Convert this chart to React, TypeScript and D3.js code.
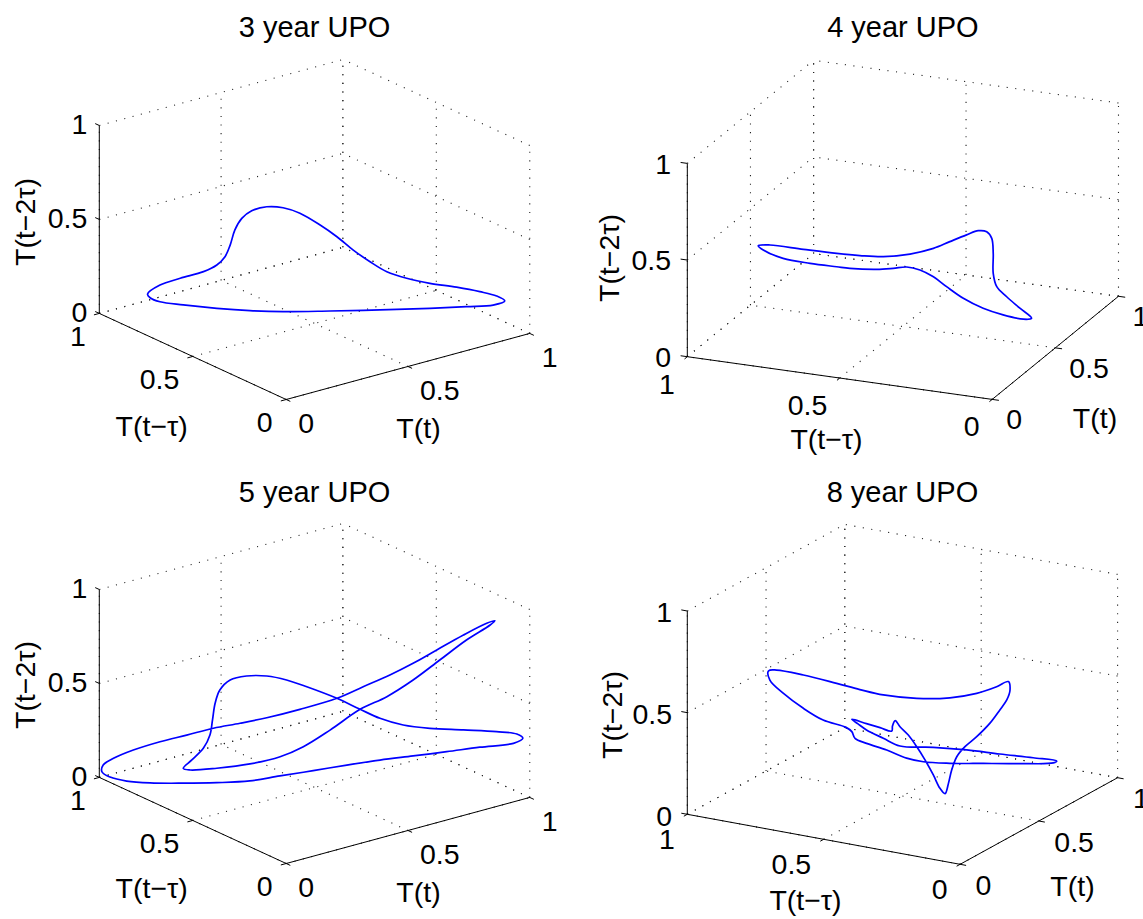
import React from 'react';
import * as d3 from 'd3';

const W = 1143;
const H = 919;

// Delay-embedded unstable periodic orbits: T(t), T(t-tau), T(t-2tau)
const upo3Tt = [0.112,0.141,0.188,0.242,0.273,0.292,0.304,0.315,0.331,0.354,0.389,0.427,0.466,0.513,0.552,0.590,0.629,0.668,0.714,0.768,0.830,0.884,0.923,0.942,0.915,0.853,0.768,0.652,0.536,0.427,0.350,0.273,0.195,0.141,0.118];
const upo3Tt1 = [0.888,0.859,0.812,0.758,0.727,0.708,0.696,0.685,0.669,0.646,0.611,0.573,0.534,0.487,0.448,0.410,0.371,0.332,0.286,0.232,0.170,0.116,0.077,0.058,0.085,0.147,0.232,0.348,0.464,0.573,0.650,0.727,0.805,0.859,0.882];
const upo3Tt2 = [0.115,0.166,0.207,0.248,0.287,0.333,0.396,0.478,0.541,0.584,0.609,0.608,0.583,0.525,0.467,0.400,0.342,0.293,0.263,0.242,0.228,0.210,0.191,0.167,0.142,0.127,0.109,0.088,0.070,0.055,0.052,0.056,0.066,0.077,0.096];

const upo4Tt = [0.337,0.350,0.388,0.425,0.452,0.478,0.508,0.534,0.553,0.572,0.585,0.594,0.600,0.602,0.602,0.606,0.617,0.632,0.645,0.636,0.613,0.590,0.568,0.549,0.534,0.519,0.504,0.489,0.471,0.440,0.425,0.395,0.365,0.343];
const upo4Tt1 = [0.907,0.874,0.780,0.686,0.621,0.555,0.480,0.414,0.368,0.321,0.288,0.264,0.250,0.246,0.246,0.236,0.208,0.171,0.138,0.161,0.218,0.274,0.330,0.377,0.414,0.452,0.489,0.527,0.574,0.649,0.686,0.761,0.837,0.893];
const upo4Tt2 = [0.415,0.419,0.397,0.377,0.366,0.361,0.375,0.405,0.440,0.475,0.497,0.492,0.458,0.381,0.277,0.208,0.156,0.097,0.045,0.040,0.062,0.096,0.147,0.207,0.258,0.293,0.308,0.301,0.295,0.300,0.308,0.325,0.350,0.393];

const upo5Tt = [0.006,0.009,0.033,0.079,0.141,0.203,0.265,0.327,0.389,0.466,0.552,0.613,0.675,0.729,0.784,0.846,0.900,0.919,0.908,0.853,0.791,0.729,0.668,0.606,0.536,0.474,0.420,0.350,0.273,0.211,0.195,0.215,0.242,0.257,0.263,0.269,0.280,0.304,0.342,0.389,0.435,0.482,0.552,0.606,0.652,0.706,0.768,0.846,0.923,0.970,0.984,0.962,0.884,0.807,0.729,0.652,0.575,0.497,0.411,0.328,0.238,0.160,0.092,0.042,0.012];
const upo5Tt1 = [0.994,0.991,0.967,0.921,0.859,0.797,0.735,0.673,0.611,0.534,0.448,0.387,0.325,0.271,0.216,0.154,0.100,0.081,0.092,0.147,0.209,0.271,0.332,0.394,0.464,0.526,0.580,0.650,0.727,0.789,0.805,0.785,0.758,0.743,0.737,0.731,0.720,0.696,0.658,0.611,0.565,0.518,0.448,0.394,0.348,0.294,0.232,0.154,0.077,0.030,0.016,0.038,0.116,0.193,0.271,0.348,0.425,0.503,0.569,0.622,0.682,0.760,0.848,0.908,0.958];
const upo5Tt2 = [0.031,0.067,0.105,0.154,0.205,0.247,0.290,0.323,0.359,0.412,0.480,0.548,0.617,0.685,0.762,0.848,0.916,0.932,0.908,0.822,0.709,0.596,0.501,0.427,0.309,0.214,0.155,0.109,0.078,0.062,0.069,0.116,0.182,0.253,0.334,0.423,0.495,0.551,0.576,0.581,0.565,0.534,0.480,0.427,0.384,0.354,0.343,0.343,0.342,0.334,0.313,0.284,0.255,0.223,0.192,0.162,0.127,0.089,0.061,0.039,0.034,0.023,0.008,0.008,0.017];

const upo8Tt = [0.207,0.220,0.264,0.318,0.356,0.394,0.449,0.503,0.547,0.580,0.599,0.601,0.596,0.585,0.569,0.547,0.528,0.514,0.506,0.501,0.495,0.487,0.476,0.463,0.449,0.435,0.422,0.414,0.409,0.408,0.389,0.367,0.343,0.353,0.367,0.394,0.422,0.476,0.531,0.585,0.639,0.678,0.672,0.612,0.558,0.503,0.460,0.433,0.400,0.367,0.348,0.343,0.334,0.296,0.264,0.231,0.209];
const upo8Tt1 = [0.822,0.800,0.727,0.636,0.573,0.509,0.418,0.328,0.255,0.201,0.169,0.164,0.173,0.192,0.219,0.255,0.287,0.309,0.323,0.332,0.341,0.355,0.373,0.396,0.418,0.441,0.464,0.477,0.484,0.486,0.518,0.555,0.595,0.578,0.555,0.509,0.464,0.373,0.282,0.192,0.101,0.037,0.046,0.146,0.237,0.328,0.400,0.446,0.500,0.555,0.586,0.595,0.611,0.673,0.727,0.782,0.818];
const upo8Tt2 = [0.661,0.665,0.640,0.598,0.567,0.540,0.522,0.524,0.545,0.577,0.602,0.561,0.512,0.463,0.398,0.332,0.283,0.234,0.169,0.103,0.053,0.079,0.145,0.219,0.284,0.342,0.383,0.413,0.387,0.362,0.379,0.399,0.421,0.398,0.368,0.327,0.288,0.281,0.267,0.246,0.227,0.210,0.201,0.199,0.200,0.202,0.210,0.228,0.269,0.302,0.327,0.360,0.381,0.418,0.476,0.551,0.616];

const tickValues = [0, 0.5, 1];
const tickLabels = ['0', '0.5', '1'];
const titles = ['3 year UPO', '4 year UPO', '5 year UPO', '8 year UPO'];
const xAxisName = 'T(t)';
const yAxisName = 'T(t\u2212\u03c4)';
const zAxisName = 'T(t\u22122\u03c4)';

type Pt = [number, number];

interface Panel {
  title: string;
  xs: number[];
  ys: number[];
  zs: number[];
  az: number;
  el: number;
  sh: number;
  sv: number;
  ox: number;
  oy: number;
  titleY: number;
  zLab: Pt;
  yLab: Pt;
  xLab: Pt;
  xName: Pt;
  yName: Pt;
  zName: Pt;
}

const panels: Panel[] = [
  {
    title: titles[0], xs: upo3Tt, ys: upo3Tt1, zs: upo3Tt2,
    az: 37.5, el: 30, sh: 307, sv: 217, ox: 286.2, oy: 399.5, titleY: 36.7,
    zLab: [-12, -1.5], yLab: [-13.5, 22.3], xLab: [12, 23],
    xName: [418.5, 438], yName: [151.7, 436], zName: [34.5, 222],
  },
  {
    title: titles[1], xs: upo4Tt, ys: upo4Tt1, zs: upo4Tt2,
    az: 67.5, el: 30, sh: 330, sv: 223.2, ox: 992.2, oy: 399.4, titleY: 36.7,
    zLab: [-16.3, 0], yLab: [-12.5, 26.7], xLab: [14, 19.5],
    xName: [1095, 428], yName: [826.5, 449], zName: [618.7, 258],
  },
  {
    title: titles[2], xs: upo5Tt, ys: upo5Tt1, zs: upo5Tt2,
    az: 37.5, el: 30, sh: 307, sv: 217, ox: 286.2, oy: 863.5, titleY: 501.7,
    zLab: [-12, -1.5], yLab: [-13.5, 22.3], xLab: [12, 23],
    xName: [418.5, 902], yName: [151.7, 898], zName: [35, 685],
  },
  {
    title: titles[3], xs: upo8Tt, ys: upo8Tt1, zs: upo8Tt2,
    az: 60, el: 26.19, sh: 315, sv: 226.56, ox: 960.1, oy: 864.3, titleY: 501.7,
    zLab: [-15.3, 1], yLab: [-12.5, 24.3], xLab: [15.5, 20.4],
    xName: [1072.5, 896], yName: [805.5, 910], zName: [622, 715],
  },
];

const FONT = "'Liberation Sans', Arial, Helvetica, sans-serif";
const FS = 28.5;
const TITLE_FS = 29;
const TICK = 0.022;

function makeProjection(p: Panel) {
  const a = (p.az * Math.PI) / 180;
  const e = (p.el * Math.PI) / 180;
  const hScale = d3.scaleLinear().domain([0, 1]).range([0, p.sh]);
  const vScale = d3.scaleLinear().domain([0, 1]).range([0, p.sv]);
  return (x: number, y: number, z: number): Pt => [
    p.ox + hScale(x * Math.cos(a) - y * Math.sin(a)),
    p.oy - vScale((x * Math.sin(a) + y * Math.cos(a)) * Math.sin(e) + z * Math.cos(e)),
  ];
}

function PanelView({ p }: { p: Panel }) {
  const P = makeProjection(p);
  const seg = (a: [number, number, number], b: [number, number, number]) => {
    const s = P(a[0], a[1], a[2]);
    const t = P(b[0], b[1], b[2]);
    return { x1: s[0], y1: s[1], x2: t[0], y2: t[1] };
  };

  const grid: ReturnType<typeof seg>[] = [];
  tickValues.forEach((g) => {
    grid.push(seg([g, 0, 0], [g, 1, 0]));
    grid.push(seg([0, g, 0], [1, g, 0]));
    grid.push(seg([g, 1, 0], [g, 1, 1]));
    grid.push(seg([0, 1, g], [1, 1, g]));
    grid.push(seg([1, g, 0], [1, g, 1]));
    grid.push(seg([1, 0, g], [1, 1, g]));
  });

  const axes = [seg([0, 1, 0], [0, 1, 1]), seg([0, 0, 0], [0, 1, 0]), seg([0, 0, 0], [1, 0, 0])];
  const ticks: ReturnType<typeof seg>[] = [];
  tickValues.forEach((g) => {
    ticks.push(seg([0, 1, g], [0, 1 + TICK, g]));
    ticks.push(seg([0, g, 0], [-TICK, g, 0]));
    ticks.push(seg([g, 0, 0], [g, -TICK, 0]));
  });

  const pts: Pt[] = p.xs.map((x, i) => P(x, p.ys[i], p.zs[i]));
  const line = d3.line<Pt>().curve(d3.curveCatmullRomClosed.alpha(0.5));
  const d = line(pts) || '';

  const zAxisX = P(0, 1, 0)[0];
  const left = zAxisX;
  const right = P(1, 0, 0)[0];
  const dy = FS * 0.358;

  return (
    <g>
      {grid.map((s, i) => (
        <line key={'g' + i} {...s} stroke="#222" strokeWidth={1.1} strokeDasharray="1.1,7.5" />
      ))}
      {axes.map((s, i) => (
        <line key={'a' + i} {...s} stroke="#000" strokeWidth={1} />
      ))}
      {ticks.map((s, i) => (
        <line key={'t' + i} {...s} stroke="#000" strokeWidth={1} />
      ))}
      <path d={d} fill="none" stroke="#0000ff" strokeWidth={1.7} strokeLinejoin="round" />
      <g fontFamily={FONT} fontSize={FS} fill="#000">
        <text x={(left + right) / 2} y={p.titleY} textAnchor="middle" fontSize={TITLE_FS}>{p.title}</text>
        {tickValues.map((g, i) => {
          const tz = P(0, 1, g);
          const ty = P(0, g, 0);
          const tx = P(g, 0, 0);
          return (
            <g key={'l' + i}>
              <text x={zAxisX + p.zLab[0]} y={tz[1] + p.zLab[1] + dy} textAnchor="end">{tickLabels[i]}</text>
              <text x={ty[0] + p.yLab[0]} y={ty[1] + p.yLab[1] + dy} textAnchor="end">{tickLabels[i]}</text>
              <text x={tx[0] + p.xLab[0]} y={tx[1] + p.xLab[1] + dy} textAnchor="start">{tickLabels[i]}</text>
            </g>
          );
        })}
        <text x={p.xName[0]} y={p.xName[1]} textAnchor="middle">{xAxisName}</text>
        <text x={p.yName[0]} y={p.yName[1]} textAnchor="middle">{yAxisName}</text>
        <text transform={`translate(${p.zName[0]},${p.zName[1]}) rotate(-90)`} textAnchor="middle">{zAxisName}</text>
      </g>
    </g>
  );
}

export default function App() {
  return (
    <svg
      width={W}
      height={H}
      viewBox={`0 0 ${W} ${H}`}
      style={{ position: 'absolute', left: 0, top: 0, background: '#fff' }}
    >
      <rect width={W} height={H} fill="#fff" />
      {panels.map((p, i) => (
        <PanelView key={i} p={p} />
      ))}
    </svg>
  );
}
